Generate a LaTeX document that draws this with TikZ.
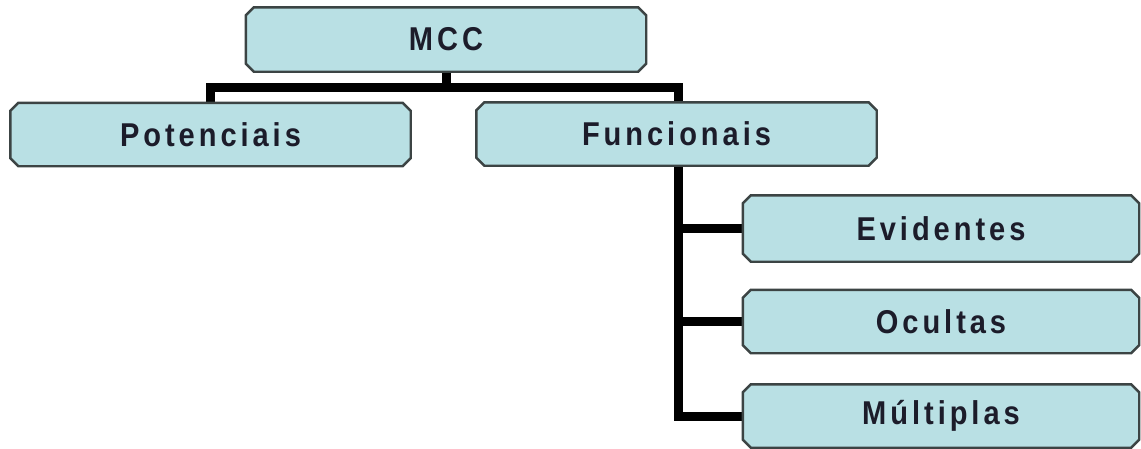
\documentclass[tikz,border=0pt]{standalone}
\usepackage{fontspec}
\setmainfont{Liberation Sans}[LetterSpace=12,FakeStretch=0.88]
\usetikzlibrary{backgrounds}
\pgfdeclarelayer{boxes}
\pgfsetlayers{background,boxes,main}
\definecolor{boxfill}{HTML}{B9E0E4}
\definecolor{boxline}{HTML}{3C4444}
\definecolor{labeltext}{HTML}{1C1C2A}
\tikzset{
  item/.style={rectangle, minimum width=400pt, minimum height=63pt,
    inner sep=0pt, text=labeltext,
    font=\fontsize{33pt}{36pt}\selectfont\bfseries},
  outline/.style={draw=boxline, line width=2.4pt, fill=boxfill,
    line join=miter},
  conn/.style={draw=black, line width=9pt},
}
% bevelled outline around a named node
\newcommand\bevelbox[1]{%
  \begin{pgfonlayer}{boxes}
    \draw[outline]
      ([xshift=8pt]#1.north west) -- ([xshift=-8pt]#1.north east)
      -- ([yshift=-8pt]#1.north east) -- ([yshift=8pt]#1.south east)
      -- ([xshift=-8pt]#1.south east) -- ([xshift=8pt]#1.south west)
      -- ([yshift=8pt]#1.south west) -- ([yshift=-8pt]#1.north west)
      -- cycle;
  \end{pgfonlayer}}
\begin{document}
\begin{tikzpicture}[x=1pt,y=-1pt]
  \useasboundingbox (0,0) rectangle (1141,448);
  \node[item, minimum height=64pt] (mcc) at (446,39.5) {MCC};
  \node[item] (pot) at (210.5,134.5) {Potenciais};
  \node[item] (fun) at (676.5,134) {Funcionais};
  \node[item, minimum width=396pt, minimum height=66pt] (evi) at (941,228.5) {Evidentes};
  \node[item, minimum width=396pt] (ocu) at (941,321.5) {Ocultas};
  \node[item, minimum width=396pt] (mul) at (941,416) {Múltiplas};
  \foreach \n in {mcc,pot,fun,evi,ocu,mul} {\bevelbox{\n}}
  \coordinate (bar) at (0,87);
  \begin{scope}[on background layer]
    \draw[conn] (mcc.south) -- (mcc.south |- bar);
    \draw[conn] (pot.north) -- (pot.north |- bar) -- ([xshift=1.5pt]fun.north |- bar) -- ([xshift=1.5pt]fun.north);
    \draw[conn] ([xshift=1.5pt]fun.south) |- (mul.west);
    \draw[conn] ([xshift=1.5pt]fun.south |- evi.west) -- (evi.west);
    \draw[conn] ([xshift=1.5pt]fun.south |- ocu.west) -- (ocu.west);
  \end{scope}
\end{tikzpicture}
\end{document}
